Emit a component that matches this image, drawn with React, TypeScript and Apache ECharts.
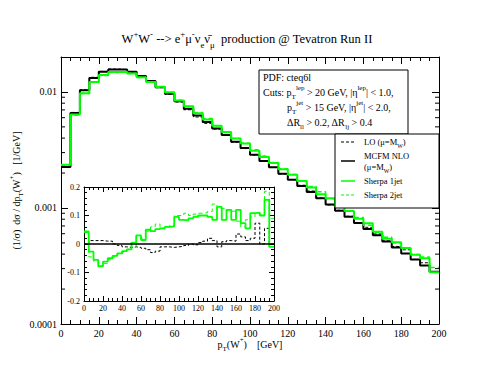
import React, { useEffect, useRef } from 'react';
import * as echarts from 'echarts';

const FONT = "'Liberation Serif', 'Times New Roman', serif";

const binLow = [0, 5, 10, 15, 20, 25, 30, 35, 40, 45, 50, 55, 60, 65, 70, 75, 80, 85, 90, 95,
  100, 105, 110, 115, 120, 125, 130, 135, 140, 145, 150, 155, 160, 165, 170, 175, 180, 185, 190, 195];
const xMax = 200;

const nloMain = [0.00226, 0.00658, 0.01033, 0.01321, 0.01489, 0.0156, 0.0156, 0.0149, 0.0137, 0.0124,
  0.011, 0.00966, 0.0083, 0.00716, 0.00627, 0.0055, 0.00483, 0.00425, 0.00373, 0.00328,
  0.00288, 0.00254, 0.00224, 0.00197, 0.00175, 0.00155, 0.00137, 0.00121, 0.00107, 0.000948,
  0.000839, 0.000743, 0.000658, 0.000582, 0.000515, 0.000457, 0.000406, 0.00036, 0.000319, 0.000282];
const loMain = [0.00226, 0.00666, 0.01045, 0.01337, 0.01504, 0.01576, 0.0156, 0.01483, 0.01356, 0.01225,
  0.01089, 0.00954, 0.00818, 0.00702, 0.00608, 0.00536, 0.00478, 0.00421, 0.00369, 0.00325,
  0.00286, 0.00253, 0.00224, 0.00196, 0.00176, 0.00157, 0.0014, 0.00122, 0.00106, 0.000956,
  0.000849, 0.00075, 0.000681, 0.000597, 0.000521, 0.000466, 0.000436, 0.00036, 0.000337, 0.000282];
const sherpa1Main = [0.00236, 0.0064, 0.00975, 0.01218, 0.01397, 0.01482, 0.01494, 0.01441, 0.01336, 0.01216,
  0.01106, 0.00995, 0.00842, 0.00752, 0.00655, 0.00579, 0.0051, 0.00451, 0.00396, 0.00359,
  0.00312, 0.00275, 0.00244, 0.00216, 0.00193, 0.00171, 0.0015, 0.00131, 0.00121, 0.00103,
  0.00094, 0.000806, 0.000737, 0.000624, 0.000543, 0.000506, 0.000451, 0.000396, 0.000368, 0.000279];
const sherpa2Main = [0.00235, 0.00628, 0.00971, 0.01218, 0.01388, 0.01474, 0.0149, 0.01438, 0.01332, 0.01215,
  0.01091, 0.0099, 0.00847, 0.00748, 0.00665, 0.00589, 0.0051, 0.00451, 0.00397, 0.00361,
  0.00317, 0.00281, 0.00246, 0.00218, 0.00194, 0.00172, 0.00153, 0.00138, 0.0012, 0.00107,
  0.00094, 0.000828, 0.000711, 0.000617, 0.000559, 0.0005, 0.00045, 0.000398, 0.000378, 0.000307];

const loRatio = [0.0, 0.012, 0.012, 0.012, 0.01, 0.01, 0.0, -0.005, -0.01, -0.012,
  -0.01, -0.012, -0.015, -0.02, -0.03, -0.025, -0.01, -0.01, -0.012, -0.01,
  -0.008, -0.005, 0.0, -0.003, 0.005, 0.01, 0.02, 0.012, -0.01, 0.008,
  0.012, 0.01, 0.035, 0.025, 0.012, 0.02, 0.073, 0.0, 0.055, 0.0];
const sherpa1Ratio = [0.044, -0.027, -0.056, -0.078, -0.062, -0.05, -0.042, -0.033, -0.025, -0.019,
  0.005, 0.03, 0.014, 0.05, 0.045, 0.052, 0.055, 0.06, 0.062, 0.095,
  0.085, 0.083, 0.09, 0.095, 0.1, 0.1, 0.095, 0.085, 0.13, 0.085,
  0.12, 0.085, 0.12, 0.073, 0.055, 0.108, 0.11, 0.1, 0.155, -0.01];
const sherpa2Ratio = [0.04, -0.045, -0.06, -0.078, -0.068, -0.055, -0.045, -0.035, -0.028, -0.02,
  -0.008, 0.025, 0.02, 0.045, 0.06, 0.07, 0.055, 0.06, 0.065, 0.1,
  0.1, 0.108, 0.1, 0.105, 0.108, 0.11, 0.114, 0.14, 0.125, 0.125,
  0.12, 0.115, 0.08, 0.06, 0.085, 0.095, 0.108, 0.105, 0.185, 0.09];
const zeroLine = [[0, 0], [200, 0]];

const logMinorTicks = [0.0002, 0.0003, 0.0004, 0.0005, 0.0006, 0.0007, 0.0008, 0.0009,
  0.002, 0.003, 0.004, 0.005, 0.006, 0.007, 0.008, 0.009];

const toSteps = (vals: number[]) => [
  ...binLow.map((x, i) => [x, vals[i]]),
  [xMax, vals[vals.length - 1]],
];

const richFor = (size: number) => ({
  sup: { fontSize: size * 0.7, lineHeight: size * 0.8, verticalAlign: 'top', fontFamily: FONT, color: '#000', fill: '#000' },
  sub: { fontSize: size * 0.7, lineHeight: size * 0.8, verticalAlign: 'bottom', fontFamily: FONT, color: '#000', fill: '#000' },
});

const textEl = (x: number, y: number, text: string, size: number) => ({
  type: 'text',
  x,
  y,
  z: 101,
  style: {
    text,
    fontFamily: FONT,
    fontSize: size,
    lineHeight: size * 1.6,
    fill: '#000',
    align: 'left',
    verticalAlign: 'middle',
    textAlign: 'left',
    textVerticalAlign: 'middle',
    rich: richFor(size),
  },
});

const lineEl = (x1: number, y1: number, x2: number, y2: number, color: string, width: number, dash?: number[]) => ({
  type: 'line',
  z: 101,
  shape: { x1, y1, x2, y2 },
  style: { stroke: color, lineWidth: width, lineDash: dash },
});

const tickStyle = { color: '#000', width: 1 };

const mainX = (pos: 'bottom' | 'top', labels: boolean) => ({
  type: 'value',
  gridIndex: 0,
  position: pos,
  min: 0,
  max: 200,
  interval: 20,
  axisLine: { show: true, onZero: false, lineStyle: tickStyle },
  axisTick: { show: true, inside: true, length: 7, lineStyle: tickStyle },
  minorTick: { show: true, splitNumber: 4, length: 4, lineStyle: tickStyle },
  splitLine: { show: false },
  minorSplitLine: { show: false },
  axisLabel: { show: labels, fontFamily: FONT, fontSize: 10, color: '#000', margin: 4 },
  ...(labels
    ? {
        name: 'p{sub|T}(W{sup|+})    [GeV]',
        nameLocation: 'middle',
        nameGap: 12,
        nameMoveOverlap: false,
        nameTextStyle: { fontFamily: FONT, fontSize: 10, lineHeight: 16, color: '#000', rich: richFor(10) },
      }
    : {}),
});

const mainY = (pos: 'left' | 'right', labels: boolean) => ({
  type: 'log',
  logBase: 10,
  gridIndex: 0,
  position: pos,
  min: 0.0001,
  max: 0.02,
  axisLine: { show: true, onZero: false, lineStyle: tickStyle },
  axisTick: { show: true, inside: true, length: 7, lineStyle: tickStyle },
  splitLine: { show: false },
  axisLabel: {
    show: labels,
    fontFamily: FONT,
    fontSize: 10,
    color: '#000',
    margin: 4,
    showMaxLabel: false,
    formatter: (v: number) => String(Number(v.toPrecision(1))),
  },
  ...(labels
    ? {
        name: '(1/σ)  dσ / dp{sub|T}(W{sup|+})   [1/GeV]',
        nameLocation: 'middle',
        nameGap: 37,
        nameMoveOverlap: false,
        nameTextStyle: { fontFamily: FONT, fontSize: 10, lineHeight: 16, color: '#000', rich: richFor(10) },
      }
    : {}),
});

const insetX = (pos: 'bottom' | 'top', labels: boolean) => ({
  type: 'value',
  gridIndex: 1,
  position: pos,
  min: 0,
  max: 200,
  interval: 20,
  z: 10,
  axisLine: { show: true, onZero: false, lineStyle: tickStyle },
  axisTick: { show: true, inside: true, length: 5, lineStyle: tickStyle },
  minorTick: { show: true, splitNumber: 4, length: 3, lineStyle: tickStyle },
  splitLine: { show: false },
  axisLabel: { show: labels, fontFamily: FONT, fontSize: 8, color: '#000', margin: 3 },
});

const insetY = (pos: 'left' | 'right', labels: boolean) => ({
  type: 'value',
  gridIndex: 1,
  position: pos,
  min: -0.2,
  max: 0.2,
  interval: 0.1,
  z: 10,
  axisLine: { show: true, onZero: false, lineStyle: tickStyle },
  axisTick: { show: true, inside: true, length: 5, lineStyle: tickStyle },
  minorTick: { show: true, splitNumber: 5, length: 3, lineStyle: tickStyle },
  splitLine: { show: false },
  axisLabel: { show: labels, fontFamily: FONT, fontSize: 8, color: '#000', margin: 4 },
});

const GREEN = '#00ff00';

const stepSeries = (data: number[], color: string, width: number, dash: any, xi: number, yi: number, z = 2) => ({
  type: 'line',
  xAxisIndex: xi,
  yAxisIndex: yi,
  step: 'end',
  data: toSteps(data),
  symbol: 'none',
  silent: true,
  z,
  lineStyle: { color, width, type: dash },
});

const option: any = {
  animation: false,
  backgroundColor: '#fff',
  title: {
    text: 'W{sup|+}W{sup|-} --> e{sup|+}μ{sup|-}ν{sub|e}ν̄{sub|μ}  production @ Tevatron Run II',
    left: 'center',
    top: 29,
    padding: 0,
    textStyle: {
      fontFamily: FONT,
      fontSize: 12.5,
      fontWeight: 'normal',
      lineHeight: 20,
      color: '#000',
      rich: richFor(12.5),
    },
  },
  grid: [
    { left: 57, top: 57, width: 382, height: 267 },
    { left: 84, top: 187, width: 190, height: 114, z: 10 },
  ],
  xAxis: [mainX('bottom', true), mainX('top', false), insetX('bottom', true), insetX('top', false)],
  yAxis: [mainY('left', true), mainY('right', false), insetY('left', true), insetY('right', false)],
  series: [
    stepSeries(loMain, '#000', 1, [3, 2], 0, 0),
    stepSeries(nloMain, '#000', 2, 'solid', 0, 0),
    stepSeries(sherpa1Main, GREEN, 2, 'solid', 0, 0),
    stepSeries(sherpa2Main, GREEN, 1.5, [4, 3], 0, 0),
    {
      type: 'custom',
      xAxisIndex: 0,
      yAxisIndex: 0,
      silent: true,
      z: 5,
      data: logMinorTicks.map((v) => [0, v]),
      encode: { x: 0, y: 1 },
      renderItem: (params: any, api: any) => {
        const v = api.value(1);
        const l = api.coord([0, v]);
        const r = api.coord([200, v]);
        return {
          type: 'group',
          children: [
            { type: 'line', shape: { x1: l[0], y1: l[1], x2: l[0] + 4, y2: l[1] }, style: { stroke: '#000', lineWidth: 1 } },
            { type: 'line', shape: { x1: r[0] - 4, y1: r[1], x2: r[0], y2: r[1] }, style: { stroke: '#000', lineWidth: 1 } },
          ],
        };
      },
    },
    stepSeries(loRatio, '#000', 1, [3, 2], 2, 2, 10),
    stepSeries(sherpa1Ratio, GREEN, 1.8, 'solid', 2, 2, 10),
    stepSeries(sherpa2Ratio, GREEN, 1, [4, 3], 2, 2, 10),
    {
      type: 'line',
      xAxisIndex: 2,
      yAxisIndex: 2,
      data: zeroLine,
      symbol: 'none',
      silent: true,
      z: 11,
      lineStyle: { color: '#000', width: 1.5 },
    },
  ],
  graphic: [
    // info box
    { type: 'rect', z: 100, shape: { x: 259, y: 70, width: 149, height: 64 }, style: { fill: '#fff', stroke: '#000', lineWidth: 1 } },
    textEl(263, 77, 'PDF: cteq6l', 10),
    textEl(263, 92, 'Cuts: p{sub|T}{sup|lep} > 20 GeV, |η{sup|lep}| < 1.0,', 10),
    textEl(287, 107, 'p{sub|T}{sup|jet} > 15 GeV, |η{sup|jet}| < 2.0,', 10),
    textEl(287, 122, 'ΔR{sub|ll} > 0.2, ΔR{sub|lj} > 0.4', 10),
    // legend
    { type: 'rect', z: 100, shape: { x: 335, y: 134, width: 104, height: 74 }, style: { fill: '#fff', stroke: '#000', lineWidth: 1 } },
    lineEl(341, 142, 355, 142, '#000', 1, [3, 2]),
    textEl(364, 142, 'LO (μ=M{sub|W})', 8.5),
    lineEl(341, 161, 355, 161, '#000', 1.5),
    textEl(364, 156, 'MCFM NLO', 8.5),
    textEl(364, 167, '(μ=M{sub|W})', 8.5),
    lineEl(341, 181, 355, 181, GREEN, 1.5),
    textEl(364, 181, 'Sherpa 1jet', 8.5),
    lineEl(341, 195, 355, 195, GREEN, 1.2, [3, 2]),
    textEl(364, 195, 'Sherpa 2jet', 8.5),
  ],
};

export default function App() {
  const ref = useRef<HTMLDivElement>(null);
  useEffect(() => {
    const chart = echarts.init(ref.current as HTMLDivElement, null, { renderer: 'svg' });
    chart.setOption(option);
    return () => chart.dispose();
  }, []);
  return (
    <div
      ref={ref}
      style={{ position: 'fixed', left: 0, top: 0, width: 494, height: 382, background: '#fff' }}
    />
  );
}
